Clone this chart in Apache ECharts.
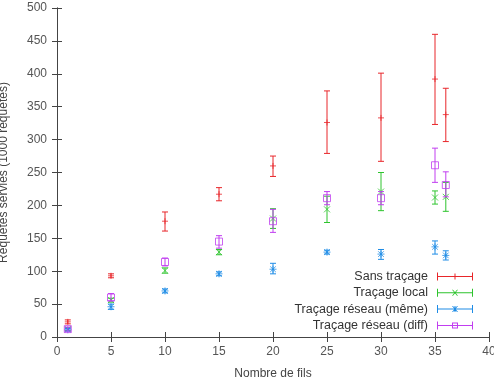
<!DOCTYPE html>
<html>
<head>
<meta charset="utf-8">
<script src="https://cdn.jsdelivr.net/npm/echarts@6/dist/echarts.min.js"></script>
<style>
  html, body { margin: 0; padding: 0; background: #fff; }
  #chart { width: 494px; height: 384px; }
</style>
</head>
<body>
<div id="chart"></div>
<script>
  // nombre de fils
  var xs = [1, 5, 10, 15, 20, 25, 30, 35, 36]

  var sans = [23, 93, 176, 217, 260, 326, 333, 392, 338]
  var sansLow = [20, 90, 161, 207, 244, 279, 267, 323, 297]
  var sansHigh = [26, 96, 190, 227, 275, 374, 401, 460, 378]

  var local = [12, 56, 101, 129, 180, 194, 221, 212, 213]
  var localLow = [10, 53, 97, 125, 165, 174, 192, 202, 191]
  var localHigh = [14, 59, 105, 133, 195, 214, 250, 222, 235]

  var meme = [11, 46, 70, 96, 103, 129, 126, 137, 124]
  var memeLow = [9, 42, 67, 93, 96, 126, 118, 126, 117]
  var memeHigh = [13, 50, 73, 99, 112, 132, 133, 146, 131]

  var diff = [12, 60, 114, 145, 176, 211, 211, 261, 231]
  var diffLow = [9, 55, 108, 135, 159, 201, 201, 235, 213]
  var diffHigh = [15, 66, 120, 154, 194, 221, 221, 287, 251]

  var names = ['Sans traçage', 'Traçage local', 'Traçage réseau (même)', 'Traçage réseau (diff)']
  var colors = ['#e8262a', '#2ec42e', '#1e8ce6', '#c13ef0']

  var font = 'Liberation Sans'

  // marqueurs façon gnuplot (traits seulement)
  var markPlus = 'path://M0,5L10,5M5,0L5,10'
  var markCross = 'path://M0,0L10,10M10,0L0,10'
  var markStar = 'path://M0,5L10,5M5,0L5,10M1,1L9,9M9,1L1,9'
  var markSquare = 'rect'

  // icones de légende : trait horizontal avec butées + marqueur
  var legendIcons = [
    'path://M0,3.5L36,3.5L36,4.5L0,4.5ZM0,0L1,0L1,8L0,8ZM35,0L36,0L36,8L35,8ZM17.5,1L18.5,1L18.5,7L17.5,7Z',
    'path://M0,3.5L36,3.5L36,4.5L0,4.5ZM0,0L1,0L1,8L0,8ZM35,0L36,0L36,8L35,8ZM15,1L16,1L21,7L20,7ZM20,1L21,1L16,7L15,7Z',
    'path://M0,3.5L36,3.5L36,4.5L0,4.5ZM0,0L1,0L1,8L0,8ZM35,0L36,0L36,8L35,8ZM17.5,1L18.5,1L18.5,7L17.5,7ZM15,1L16,1L21,7L20,7ZM20,1L21,1L16,7L15,7Z',
    'path://M0,3.5L36,3.5L36,4.5L0,4.5ZM0,0L1,0L1,8L0,8ZM35,0L36,0L36,8L35,8ZM15,1L21,1L21,7L15,7L15,6L20,6L20,2L16,2L16,6L15,6Z'
  ]

  function errData (low, high) {
    return xs.map(function (x, i) { return [x, low[i], high[i]] })
  }
  function ptData (vals) {
    return xs.map(function (x, i) { return [x, vals[i]] })
  }

  function renderErr (params, api) {
    var x = api.value(0)
    var lo = api.coord([x, api.value(1)])
    var hi = api.coord([x, api.value(2)])
    var w = 3
    var style = { stroke: api.visual('color'), lineWidth: 1, fill: null }
    return {
      type: 'group',
      children: [
        { type: 'line', shape: { x1: lo[0], y1: lo[1], x2: hi[0], y2: hi[1] }, style: style },
        { type: 'line', shape: { x1: lo[0] - w, y1: lo[1], x2: lo[0] + w, y2: lo[1] }, style: style },
        { type: 'line', shape: { x1: hi[0] - w, y1: hi[1], x2: hi[0] + w, y2: hi[1] }, style: style }
      ]
    }
  }

  var lows = [sansLow, localLow, memeLow, diffLow]
  var highs = [sansHigh, localHigh, memeHigh, diffHigh]
  var vals = [sans, local, meme, diff]
  var marks = [markPlus, markCross, markStar, markSquare]
  var sizes = [6, 6, 7, 7]

  var series = []
  names.forEach(function (n, i) {
    series.push({
      name: n,
      type: 'custom',
      renderItem: renderErr,
      itemStyle: { color: colors[i] },
      data: errData(lows[i], highs[i]),
      z: 2 + i
    })
    series.push({
      name: n,
      type: 'scatter',
      symbol: marks[i],
      symbolSize: sizes[i],
      itemStyle: { color: 'none', borderColor: colors[i], borderWidth: 1 },
      data: ptData(vals[i]),
      z: 2 + i
    })
  })

  // une légende par ligne pour garder les échantillons alignés à droite
  var legends = names.map(function (n, i) {
    return {
      data: [{ name: n, icon: legendIcons[i], itemStyle: { color: colors[i] } }],
      orient: 'horizontal',
      align: 'right',
      right: 21,
      top: 270 + i * 16.3,
      itemWidth: 36,
      itemHeight: 8,
      itemGap: 0,
      padding: 0,
      selectedMode: false,
      textStyle: { fontFamily: font, fontSize: 12.5, color: '#333', padding: [0, 4, 0, 0] }
    }
  })

  var chart = echarts.init(document.getElementById('chart'))
  chart.setOption({
    animation: false,
    grid: { left: 57, right: 5, top: 8, bottom: 47, containLabel: false, outerBoundsMode: 'none' },
    legend: legends,
    xAxis: [{
      type: 'value',
      min: 0,
      max: 40,
      interval: 5,
      name: 'Nombre de fils',
      nameLocation: 'middle',
      nameGap: 31,
      nameTextStyle: { fontFamily: font, fontSize: 12, color: '#444' },
      axisLine: { lineStyle: { color: '#444' } },
      axisTick: { inside: true, length: 5, lineStyle: { color: '#444' } },
      axisLabel: { fontFamily: font, fontSize: 12, color: '#555', margin: 9 },
      splitLine: { show: false }
    }, {
      type: 'value',
      position: 'top',
      min: 0,
      max: 40,
      interval: 5,
      axisLine: { show: true, lineStyle: { color: '#444' } },
      axisTick: { inside: true, length: 5, lineStyle: { color: '#444' } },
      axisLabel: { show: false },
      splitLine: { show: false }
    }],
    yAxis: [{
      type: 'value',
      min: 0,
      max: 500,
      interval: 50,
      name: 'Requêtes servies (1000 requêtes)',
      nameLocation: 'middle',
      nameGap: 47,
      nameTextStyle: { fontFamily: font, fontSize: 12, color: '#444' },
      axisLine: { show: true, lineStyle: { color: '#444' } },
      axisTick: { inside: true, length: 5, lineStyle: { color: '#444' } },
      axisLabel: { fontFamily: font, fontSize: 12, color: '#555', margin: 10 },
      splitLine: { show: false }
    }, {
      type: 'value',
      position: 'right',
      min: 0,
      max: 500,
      interval: 50,
      axisLine: { show: true, lineStyle: { color: '#444' } },
      axisTick: { inside: true, length: 5, lineStyle: { color: '#444' } },
      axisLabel: { show: false },
      splitLine: { show: false }
    }],
    series: series
  })
</script>
</body>
</html>
